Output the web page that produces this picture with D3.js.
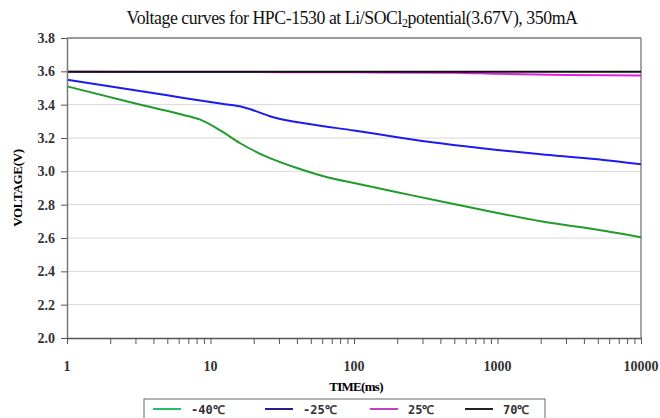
<!DOCTYPE html>
<html>
<head>
<meta charset="utf-8">
<script src="https://cdn.jsdelivr.net/npm/d3@7"></script>
<style>
  body { margin: 0; background: #fff; }
  svg { display: block; }
</style>
</head>
<body>
<div id="chart"></div>
<script>
// series names and colours
var seriesNames = ["-40℃", "-25℃", "25℃", "70℃"];
var lineColors = ["#239b2c", "#1c1cf0", "#e020e0", "#111111"];
var legendColors = ["#22c066", "#22228a", "#c040c8", "#222222"];

// time points (ms) and voltages
var timeM40 = [1, 3, 6, 8.5, 12, 16, 25, 40, 65, 100, 200, 400, 1000, 2000, 5000, 10000];
var voltM40 = [3.51, 3.407, 3.345, 3.31, 3.24, 3.17, 3.085, 3.02, 2.965, 2.93, 2.875, 2.82, 2.75, 2.70, 2.65, 2.605];

var timeM25 = [1, 5, 12, 17, 27, 50, 100, 200, 400, 1000, 2000, 5000, 10000];
var voltM25 = [3.55, 3.456, 3.405, 3.385, 3.326, 3.282, 3.245, 3.205, 3.168, 3.128, 3.103, 3.072, 3.042];

var time25 = [1, 10, 100, 500, 1000, 3000, 10000];
var volt25 = [3.597, 3.596, 3.594, 3.592, 3.585, 3.578, 3.575];

var time70 = [1, 10, 100, 1000, 10000];
var volt70 = [3.597, 3.597, 3.597, 3.597, 3.597];

var yTicks = [2.0, 2.2, 2.4, 2.6, 2.8, 3.0, 3.2, 3.4, 3.6, 3.8];
var xLabels = [1, 10, 100, 1000, 10000];

var series = [
  { name: seriesNames[0], t: timeM40, v: voltM40 },
  { name: seriesNames[1], t: timeM25, v: voltM25 },
  { name: seriesNames[2], t: time25, v: volt25 },
  { name: seriesNames[3], t: time70, v: volt70 }
];

var W = 660, H = 418;
var margin = { left: 67, right: 19, top: 38, bottom: 80 };
var width = W - margin.left - margin.right;
var height = H - margin.top - margin.bottom;

var svg = d3.select("#chart").append("svg")
  .attr("width", W).attr("height", H);

var g = svg.append("g")
  .attr("transform", "translate(" + margin.left + "," + margin.top + ")");

var x = d3.scaleLog().domain([1, 10000]).range([0, width]);
var y = d3.scaleLinear().domain([2.0, 3.8]).range([height, 0]);

// horizontal grid lines
g.selectAll(".grid").data(yTicks.slice(1, -1)).enter()
  .append("line")
    .attr("x1", 0).attr("x2", width)
    .attr("y1", function(d) { return y(d); })
    .attr("y2", function(d) { return y(d); })
    .style("stroke", "#d8d8d8")
    .style("stroke-width", 1);

// frame top and right
g.append("line").attr("x1", 0).attr("x2", width).attr("y1", 0).attr("y2", 0)
  .style("stroke", "#777").style("stroke-width", 1.5);
g.append("line").attr("x1", width).attr("x2", width).attr("y1", 0).attr("y2", height)
  .style("stroke", "#888").style("stroke-width", 1.5);

// lines
var line = d3.line()
  .x(function(d) { return x(d[0]); })
  .y(function(d) { return y(d[1]); })
  .curve(d3.curveMonotoneX);

series.forEach(function(s, i) {
  var pts = s.t.map(function(t, k) { return [t, s.v[k]]; });
  g.append("path")
    .datum(pts)
    .attr("d", line)
    .style("fill", "none")
    .style("stroke", lineColors[i])
    .style("stroke-width", 2);
});

// y axis
var yAxis = g.append("g")
  .call(d3.axisLeft(y).tickValues(yTicks).tickFormat(d3.format(".1f")).tickSize(6).tickSizeOuter(0));
yAxis.select(".domain").style("stroke", "#777").style("stroke-width", 1.5);
yAxis.selectAll(".tick line").style("stroke", "#555");
yAxis.selectAll("text")
  .attr("x", -12)
  .style("font-family", "Liberation Serif, serif")
  .style("font-weight", "bold")
  .style("font-size", "14px")
  .style("fill", "#333");

// x axis
var xAxis = g.append("g")
  .attr("transform", "translate(0," + height + ")")
  .call(d3.axisBottom(x).tickValues(x.ticks()).tickFormat("").tickSize(6).tickSizeOuter(0));
xAxis.select(".domain").style("stroke", "#555").style("stroke-width", 1.5);
xAxis.selectAll(".tick line").style("stroke", "#555");

g.selectAll(".xlab").data(xLabels).enter()
  .append("text")
    .attr("x", function(d) { return x(d); })
    .attr("y", height + 33)
    .attr("text-anchor", "middle")
    .style("font-family", "Liberation Serif, serif")
    .style("font-weight", "bold")
    .style("font-size", "14px")
    .style("fill", "#333")
    .text(function(d) { return d; });

// axis titles
svg.append("text")
  .attr("x", margin.left + width / 2 + 2)
  .attr("y", 391)
  .attr("text-anchor", "middle")
  .style("font-family", "Liberation Serif, serif")
  .style("font-weight", "bold")
  .style("font-size", "13px")
  .style("letter-spacing", "-0.7px")
  .text("TIME(ms)");

svg.append("text")
  .attr("transform", "translate(22," + (margin.top + height / 2) + ") rotate(-90)")
  .attr("text-anchor", "middle")
  .style("font-family", "Liberation Serif, serif")
  .style("font-weight", "bold")
  .style("font-size", "13px")
  .style("letter-spacing", "-0.3px")
  .text("VOLTAGE(V)");

// title
var title = svg.append("text")
  .attr("x", 352)
  .attr("y", 24)
  .attr("text-anchor", "middle")
  .style("font-family", "Liberation Serif, serif")
  .style("font-size", "17.8px")
  .style("letter-spacing", "-0.45px")
  .style("fill", "#111");
title.append("tspan").text("Voltage curves for HPC-1530 at Li/SOCl");
title.append("tspan").attr("dy", 3).style("font-size", "12px").text("2");
title.append("tspan").attr("dy", -3).text("potential(3.67V), 350mA");

// legend
var legend = svg.append("g").attr("transform", "translate(144,399)");
legend.append("rect")
  .attr("x", 0).attr("y", 0).attr("width", 401).attr("height", 24)
  .style("fill", "#fff").style("stroke", "#666").style("stroke-width", 1);
var legendX = [9, 121, 226, 321];
series.forEach(function(s, i) {
  var it = legend.append("g").attr("transform", "translate(" + legendX[i] + ",0)");
  it.append("line").attr("x1", 0).attr("x2", 28).attr("y1", 10).attr("y2", 10)
    .style("stroke", legendColors[i]).style("stroke-width", 2);
  it.append("text").attr("x", 38).attr("y", 15)
    .style("font-family", "DejaVu Sans Mono, monospace")
    .style("font-weight", "bold")
    .style("font-size", "12px")
    .style("fill", "#333")
    .text(s.name);
});
</script>
</body>
</html>
